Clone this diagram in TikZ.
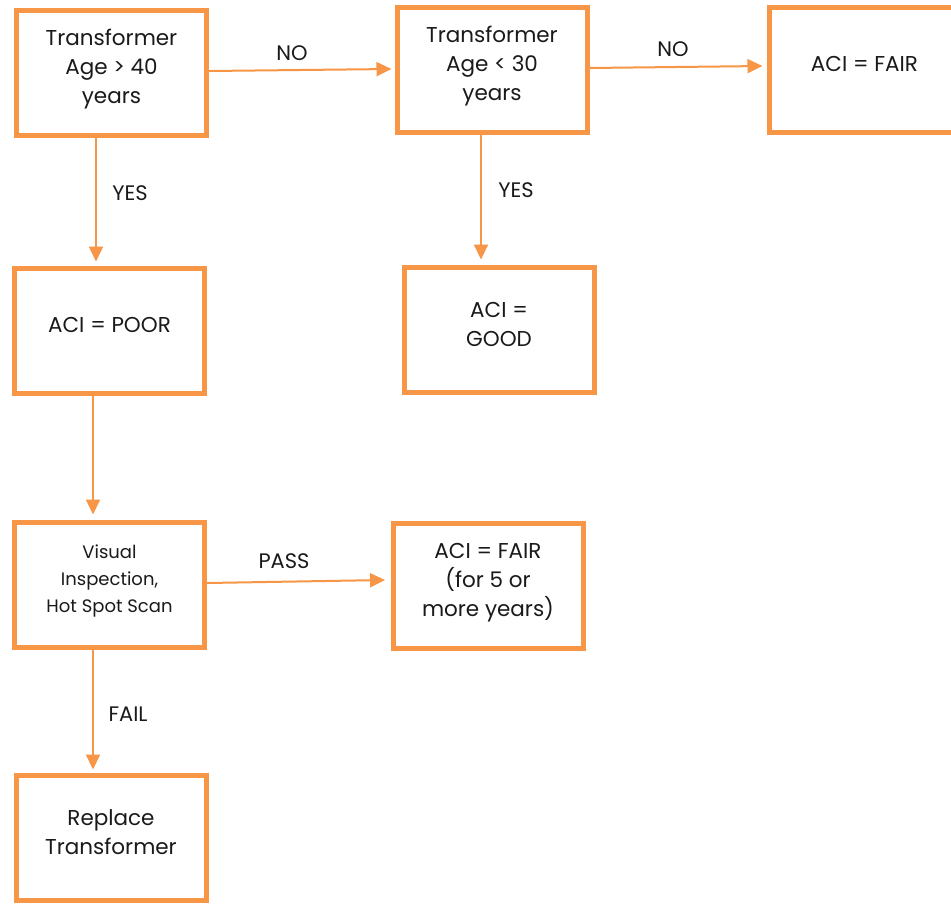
\documentclass[tikz,border=0pt]{standalone}
\usepackage{fontspec}
\setmainfont{Poppins}
\usetikzlibrary{arrows.meta}
\definecolor{acc}{HTML}{F79646}
\definecolor{ink}{HTML}{1A1A1A}
\newcommand{\tx}[1]{\raisebox{4pt}[\height][\depth]{\begin{tabular}{@{}c@{}}#1\end{tabular}}}
\begin{document}
\begin{tikzpicture}[x=1pt,y=-1pt,
  box/.style={draw=acc,line width=5pt,minimum width=190pt,minimum height=125pt,
    inner sep=0pt,text=ink,font=\fontsize{21.5}{29}\selectfont},
  small/.style={font=\fontsize{18}{27}\selectfont},
  arr/.style={draw=acc,line width=2pt,-{Triangle[length=15pt,width=14pt]}},
  lab/.style={text=ink,font=\fontsize{21}{25}\selectfont,inner sep=0pt}]
\useasboundingbox (0,0) rectangle (951,903);
\fill[white] (0,0) rectangle (951,903);
\node[box] (A) at (111.5,73) {\tx{Transformer\\Age > 40\\years}};
\node[box] (B) at (492,70) {\tx{Transformer\\Age < 30\\years}};
\node[box] (C) at (864.5,70) {\tx{ACI = FAIR}};
\node[box] (D) at (109.5,331) {\tx{ACI = POOR}};
\node[box] (E) at (499,330) {\tx{ACI =\\GOOD}};
\node[box,small] (F) at (109.5,584.5) {\tx{Visual\\Inspection,\\Hot Spot Scan}};
\node[box] (G) at (488,586) {\tx{ACI = FAIR\\(for 5 or\\more years)}};
\node[box] (H) at (111,838) {\tx{Replace\\Transformer}};
\draw[arr] ([yshift=2pt]A.east) -- ([xshift=-3pt,yshift=1pt]B.west);
\draw[arr] ([yshift=2pt]B.east) -- ([xshift=-4.5pt,yshift=4pt]C.west);
\draw[arr] ([xshift=-15.5pt]A.south) -- ([xshift=-13.5pt,yshift=4.5pt]D.north);
\draw[arr] ([xshift=-11pt]B.south) -- ([xshift=-18pt,yshift=5.5pt]E.north);
\draw[arr] ([xshift=-16.5pt]D.south) -- ([xshift=-16.5pt,yshift=5pt]F.north);
\draw[arr] ([yshift=1.5pt]F.east) -- ([xshift=-5.5pt,yshift=6pt]G.west);
\draw[arr] ([xshift=-16.5pt]F.south) -- ([xshift=-18pt,yshift=3.5pt]H.north);
\node[lab] (l1) at (292,53) {NO};
\node[lab] (l2) at (673,49) {NO};
\node[lab] (l3) at (130,193) {YES};
\node[lab] (l4) at (516,190) {YES};
\node[lab] (l5) at (284,561) {PASS};
\node[lab] (l6) at (128,714) {FAIL};
\end{tikzpicture}
\end{document}
